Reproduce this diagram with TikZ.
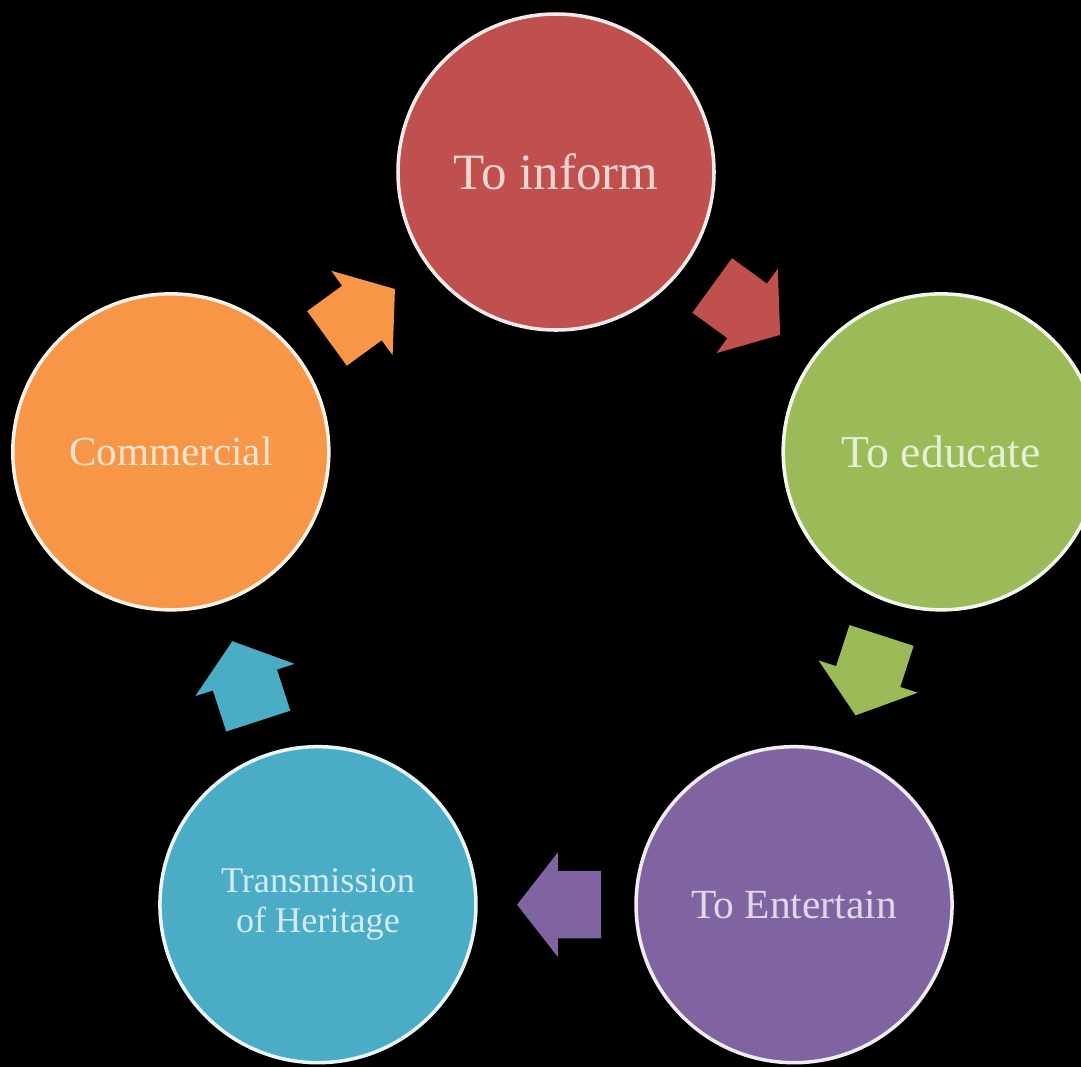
\documentclass[tikz,border=0pt]{standalone}
\usepackage{fontspec}
\setmainfont{Liberation Serif}
\usepackage{xcolor}
\usepackage{tikz}
\usetikzlibrary{shapes.arrows,calc}

\definecolor{informred}{HTML}{C0504D}
\definecolor{educategreen}{HTML}{9BBB59}
\definecolor{entertainpurple}{HTML}{8064A2}
\definecolor{heritageblue}{HTML}{4BACC6}
\definecolor{commercialorange}{HTML}{F79646}

\begin{document}
\begin{tikzpicture}[
    purpose/.style={circle, draw=white!88!#1, fill=#1, line width=1pt,
      minimum size=3.16cm, inner sep=0pt, text=white!75!#1, align=center},
    flow/.style={single arrow, fill=#1, draw=none, inner xsep=0pt, inner ysep=0.33cm,
      minimum height=0.84cm, single arrow head extend=0.185cm,
      single arrow tip angle=104}]
  \useasboundingbox (-5.56,-4.90) rectangle (5.25,5.77);
  \fill[black] (-5.56,-4.90) rectangle (5.25,5.77);
  \clip (-5.56,-4.90) rectangle (5.25,5.77);

  \node[purpose=informred, font=\fontsize{14.5}{17}\selectfont] (inform) at (90:4.05) {To inform};
  \node[purpose=educategreen, font=\fontsize{13}{15}\selectfont] (educate) at (18:4.05) {To educate};
  \node[purpose=entertainpurple, font=\fontsize{11.8}{14}\selectfont] (entertain) at (-54:4.05) {To Entertain};
  \node[purpose=heritageblue, font=\fontsize{10.3}{11.3}\selectfont] (heritage) at (234:4.05) {Transmission\\of Heritage};
  \node[purpose=commercialorange, font=\fontsize{11.7}{14}\selectfont] (commercial) at (162:4.05) {Commercial};

  % arrows between neighbours, clockwise
  \node[flow=informred, rotate=-36] (informarrow) at ($(inform)!0.466!(educate)$) {};
  \node[flow=educategreen, rotate=-108] (educatearrow) at ($(educate)!0.466!(entertain)$) {};
  \node[flow=entertainpurple, rotate=180] (entertainarrow) at ($(entertain)!0.466!(heritage)$) {};
  \node[flow=heritageblue, rotate=108] (heritagearrow) at ($(heritage)!0.466!(commercial)$) {};
  \node[flow=commercialorange, rotate=36] (commercialarrow) at ($(commercial)!0.466!(inform)$) {};
\end{tikzpicture}
\end{document}
